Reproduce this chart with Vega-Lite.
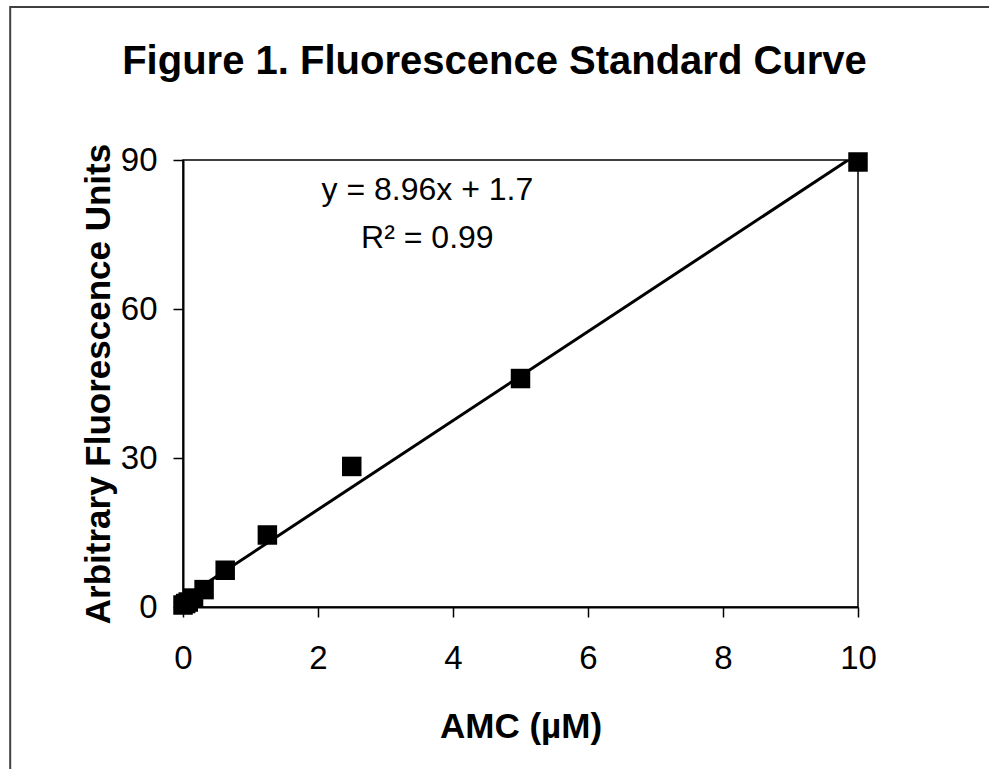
{
  "$schema": "https://vega.github.io/schema/vega-lite/v6.json",
  "width": 675,
  "height": 447,
  "autosize": {"type": "none"},
  "padding": {"left": 183, "top": 160, "right": 131, "bottom": 162},
  "background": "white",
  "title": {
    "text": "Figure 1. Fluorescence Standard Curve",
    "font": "Liberation Sans",
    "fontSize": 40,
    "fontWeight": "bold",
    "color": "black",
    "anchor": "middle",
    "frame": "group",
    "baseline": "alphabetic",
    "dx": -26,
    "offset": -108
  },
  "datasets": {
    "points": [
      {"amc": 0, "afu": 0.4},
      {"amc": 0.039, "afu": 0.7},
      {"amc": 0.078, "afu": 1.0},
      {"amc": 0.156, "afu": 1.8},
      {"amc": 0.3125, "afu": 3.5},
      {"amc": 0.625, "afu": 7.4},
      {"amc": 1.25, "afu": 14.5},
      {"amc": 2.5, "afu": 28.3},
      {"amc": 5, "afu": 46},
      {"amc": 10, "afu": 89.6}
    ],
    "fit": [
      {"amc": 0, "afu": 1.7},
      {"amc": 10, "afu": 91.3}
    ],
    "note": [
      {"label": "fit"}
    ]
  },
  "layer": [
    {
      "data": {"name": "note"},
      "mark": {"type": "rect", "filled": false, "fill": null, "stroke": "#404040", "strokeWidth": 2, "clip": false},
      "encoding": {
        "x": {"datum": -2.56, "type": "quantitative", "scale": {"domain": [0, 10], "nice": false}},
        "x2": {"datum": 12.1},
        "y": {"datum": 120.8, "type": "quantitative", "scale": {"domain": [0, 90], "nice": false}},
        "y2": {"datum": -35}
      }
    },
    {
      "data": {"name": "fit"},
      "mark": {"type": "line", "color": "black", "strokeWidth": 3, "clip": true},
      "encoding": {
        "x": {"field": "amc", "type": "quantitative"},
        "y": {"field": "afu", "type": "quantitative"}
      }
    },
    {
      "data": {"name": "points"},
      "mark": {"type": "point", "shape": "square", "filled": true, "color": "black", "size": 380, "opacity": 1, "clip": false},
      "encoding": {
        "x": {
          "field": "amc", "type": "quantitative", "title": "AMC (µM)",
          "axis": {"values": [0, 2, 4, 6, 8, 10], "format": "d", "labelFlush": false, "labelPadding": 25, "titlePadding": 34}
        },
        "y": {
          "field": "afu", "type": "quantitative", "title": "Arbitrary Fluorescence Units",
          "axis": {"values": [0, 30, 60, 90], "format": "d", "labelFlush": false, "labelPadding": 16, "titlePadding": 4}
        }
      }
    },
    {
      "data": {"name": "note"},
      "mark": {"type": "text", "align": "center", "baseline": "alphabetic", "font": "Liberation Sans", "fontSize": 32, "color": "black", "lineHeight": 48},
      "encoding": {
        "x": {"datum": 3.62, "type": "quantitative"},
        "y": {"datum": 81.9, "type": "quantitative"},
        "text": {"value": ["y = 8.96x + 1.7", "R² = 0.99"]}
      }
    }
  ],
  "config": {
    "view": {"stroke": "black", "strokeWidth": 1.5},
    "axis": {
      "grid": false,
      "domainColor": "black",
      "domainWidth": 2,
      "tickColor": "black",
      "tickWidth": 1.5,
      "tickSize": 10,
      "labelFont": "Liberation Sans",
      "labelFontSize": 33,
      "labelColor": "black",
      "titleFont": "Liberation Sans",
      "titleFontSize": 35,
      "titleFontWeight": "bold",
      "titleColor": "black"
    }
  }
}
